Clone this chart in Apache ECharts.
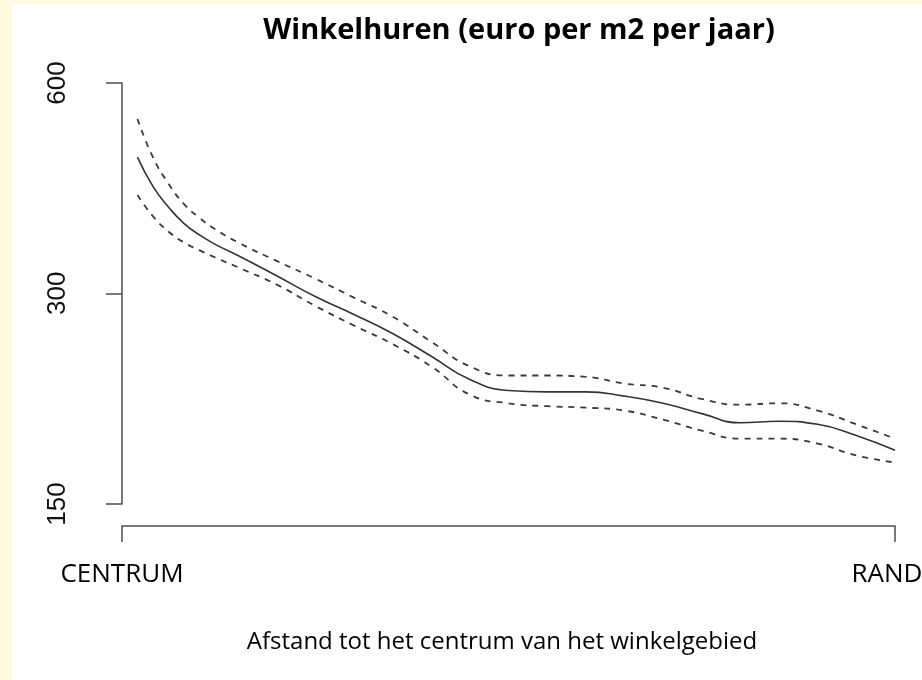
<!DOCTYPE html>
<html>
<head>
<meta charset="utf-8">
<script src="https://cdn.jsdelivr.net/npm/echarts@6/dist/echarts.min.js"></script>
<style>
html, body { margin: 0; padding: 0; background: #fffadf; }
#main { position: absolute; left: 12px; top: 4px; width: 910px; height: 676px; background: #fff; }
</style>
</head>
<body>
<div id="main"></div>
<script>
// afstand tot het centrum: 0 = CENTRUM, 100 = RAND
var afstand = [2, 4, 6, 8, 10, 12, 15, 20, 25, 30, 35, 40, 45, 50, 55, 60, 65, 70, 75, 80, 85, 90, 95, 100];
// geschatte huur (euro per m2 per jaar)
var huur = [470, 427, 399, 378, 364, 353, 340, 318, 297, 280, 263, 244, 226, 218, 217, 217, 214, 209, 202, 196, 197, 195, 188, 179];
// betrouwbaarheidsband
var bovengrens = [533, 470, 431, 403, 385, 371, 355, 334, 315, 296, 278, 256, 236, 229, 229, 228, 223, 220, 212, 208, 209, 204, 195, 186];
var ondergrens = [415, 387, 368, 355, 346, 338, 327, 309, 288, 270, 254, 236, 215, 209, 207, 206, 204, 198, 191, 186, 186, 183, 176, 172];
// tick labels
var yTicks = [150, 300, 600];
var xLabels = ['CENTRUM', 'RAND'];

function pairs(ys) {
	var out = [];
	for (var i = 0; i < afstand.length; i++) {
		out.push([afstand[i], ys[i]]);
	}
	return out;
}

var axisColor = '#4d4d4d';
var myChart = echarts.init(document.getElementById('main'));
var option = {
	animation : false,
	title : {
		text : 'Winkelhuren (euro per m2 per jaar)',
		left : 502,
		top : 7,
		textAlign : 'center',
		textStyle : {
			fontFamily : 'Open Sans',
			fontWeight : 'bold',
			fontSize : 29,
			color : '#000'
		}
	},
	grid : {
		left : 110,
		right : 27,
		top : 79,
		bottom : 176,
		outerBoundsMode : 'none'
	},
	xAxis : {
		type : 'value',
		min : 0,
		max : 100,
		interval : 100,
		offset : 22,
		name : 'Afstand tot het centrum van het winkelgebied',
		nameLocation : 'middle',
		nameGap : 104,
		nameTextStyle : {
			fontFamily : 'Open Sans',
			fontSize : 24,
			color : '#000',
			padding : [0, 13, 0, 0]
		},
		axisLine : {
			show : true,
			lineStyle : { color : axisColor, width : 1.5 }
		},
		axisTick : {
			show : true,
			length : 16,
			lineStyle : { color : axisColor, width : 1.5 }
		},
		axisLabel : {
			margin : 36,
			fontFamily : 'Open Sans',
			fontSize : 26,
			color : '#000',
			formatter : function(v) {
				return v === 0 ? xLabels[0] : '{r|' + xLabels[1] + '}';
			},
			rich : {
				r : {
					fontFamily : 'Open Sans',
					fontSize : 26,
					color : '#000',
					padding : [0, 16, 0, 0]
				}
			}
		},
		splitLine : { show : false }
	},
	yAxis : {
		type : 'log',
		logBase : 2,
		min : yTicks[0],
		max : yTicks[yTicks.length - 1],
		interval : 1,
		offset : 15,
		axisLine : {
			show : true,
			lineStyle : { color : axisColor, width : 1.5 }
		},
		axisTick : {
			show : true,
			length : 16,
			lineStyle : { color : axisColor, width : 1.5 }
		},
		axisLabel : {
			rotate : 90,
			margin : 36,
			fontFamily : 'Liberation Sans',
			fontSize : 26,
			color : '#111',
			formatter : function(v) {
				return Math.round(v);
			}
		},
		splitLine : { show : false },
		minorTick : { show : false }
	},
	series : [ {
		name : 'huur',
		type : 'line',
		smooth : true,
		symbol : 'none',
		lineStyle : { color : '#333', width : 1.6 },
		data : pairs(huur)
	}, {
		name : 'boven',
		type : 'line',
		smooth : true,
		symbol : 'none',
		lineStyle : { color : '#3a3a3a', width : 1.8, type : [6, 6] },
		data : pairs(bovengrens)
	}, {
		name : 'onder',
		type : 'line',
		smooth : true,
		symbol : 'none',
		lineStyle : { color : '#3a3a3a', width : 1.8, type : [6, 6] },
		data : pairs(ondergrens)
	} ]
};
myChart.setOption(option);
</script>
</body>
</html>
